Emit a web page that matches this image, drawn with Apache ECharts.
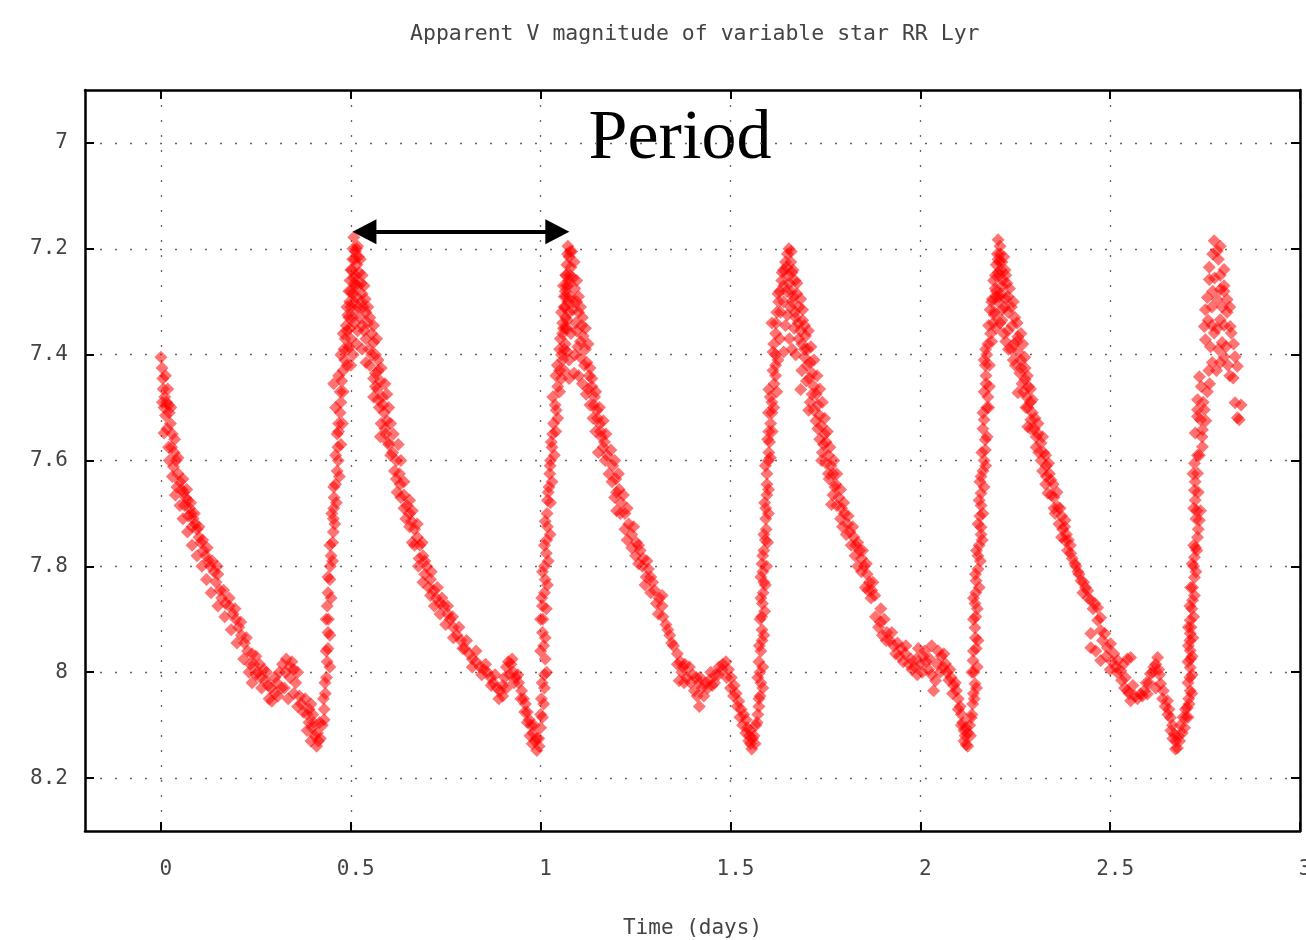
<!DOCTYPE html>
<html>
<head>
<meta charset="utf-8">
<script src="https://cdn.jsdelivr.net/npm/echarts@6/dist/echarts.min.js"></script>
<style>html,body{margin:0;padding:0;background:#fff;}#chart{width:1306px;height:940px;}</style>
</head>
<body>
<div id="chart"></div>
<script>
// Tick values
const xTicks = [0, 0.5, 1, 1.5, 2, 2.5, 3];
const yTicks = [7, 7.2, 7.4, 7.6, 7.8, 8, 8.2];

const cycle0 = [
[0.000,7.405],[0.003,7.425],[0.005,7.445],[0.006,7.465],[0.010,7.48],[0.008,7.50],[0.015,7.49],[0.020,7.495],[0.012,7.515],[0.022,7.51],
[0.025,7.53],[0.008,7.548],[0.030,7.55],[0.028,7.575],[0.035,7.585],[0.022,7.60],[0.033,7.612],[0.040,7.60],[0.045,7.625],[0.050,7.64],
[0.042,7.65],[0.055,7.655],[0.060,7.66],[0.065,7.67],[0.070,7.675],[0.062,7.685],[0.075,7.69],[0.080,7.70],[0.072,7.705],[0.085,7.71],
[0.090,7.72],[0.082,7.725],[0.095,7.73],[0.100,7.745],[0.105,7.755],[0.112,7.77],[0.118,7.78],[0.125,7.79],[0.130,7.80],[0.140,7.81],
[0.150,7.815],[0.145,7.83],[0.155,7.845],[0.160,7.86],[0.170,7.87],[0.180,7.875],[0.190,7.89],[0.197,7.90],[0.205,7.915],[0.212,7.93],
[0.220,7.945],[0.228,7.96],[0.240,7.965],[0.250,7.97],[0.245,7.985],[0.255,8.00],[0.232,8.00],[0.240,8.02],[0.262,8.01],[0.270,7.995],
[0.275,8.015],[0.282,8.025],[0.290,8.03],[0.300,8.04],[0.308,8.045],[0.285,8.05],[0.300,8.01],[0.312,8.00],[0.320,7.985],[0.330,7.975],
[0.345,7.98],[0.350,7.995],[0.340,8.01],[0.355,8.02],[0.325,8.03],[0.335,8.05],[0.350,8.04],[0.365,8.045],[0.370,8.06],[0.375,8.075],
[0.385,8.08],[0.390,8.095],[0.395,8.06],[0.400,8.08],[0.398,8.105],[0.405,8.12],[0.410,8.14],[0.412,8.115],[0.418,8.095],[0.420,8.125],
[0.425,8.10],[0.430,8.07],[0.433,8.04],[0.436,8.01],[0.438,7.98],[0.440,7.955],[0.440,7.925],[0.441,7.90],[0.438,7.875],[0.440,7.85],
[0.445,7.825],[0.446,7.80],[0.448,7.78],[0.452,7.755],[0.454,7.735],[0.454,7.71],[0.455,7.69],[0.456,7.67],[0.460,7.645],[0.464,7.62],
[0.467,7.60],[0.466,7.575],[0.464,7.55],[0.468,7.53],[0.472,7.51],[0.474,7.49],[0.472,7.47],[0.455,7.455],[0.476,7.45],[0.480,7.43],
[0.484,7.41],[0.482,7.39],[0.480,7.36],[0.488,7.345],[0.492,7.325],[0.497,7.30],[0.500,7.28],[0.498,7.26],[0.503,7.24],[0.505,7.22],
[0.506,7.20],[0.508,7.178],
[0.012,7.44],[0.018,7.465],[0.004,7.49],[0.026,7.50],[0.016,7.54],[0.036,7.56],[0.020,7.575],[0.045,7.595],[0.030,7.63],[0.058,7.635],
[0.038,7.665],[0.068,7.655],[0.050,7.685],[0.078,7.68],[0.058,7.71],[0.088,7.70],[0.070,7.735],[0.100,7.725],[0.082,7.76],[0.110,7.75],
[0.095,7.78],[0.122,7.765],[0.108,7.80],[0.135,7.79],[0.120,7.825],[0.148,7.80],[0.132,7.85],[0.165,7.845],[0.150,7.875],[0.180,7.86],
[0.168,7.895],[0.195,7.88],[0.185,7.92],[0.210,7.905],[0.200,7.945],[0.225,7.935],[0.218,7.975],[0.235,7.985],[0.250,8.005],[0.260,7.985],
[0.265,8.03],[0.278,8.00],[0.292,8.055],[0.305,8.02],[0.318,8.03],[0.328,8.00],[0.340,7.99],[0.360,8.00],[0.360,8.065],[0.380,8.05],
[0.390,8.07],[0.385,8.11],[0.395,8.13],[0.402,8.095],[0.415,8.13],[0.430,8.09],[0.428,8.05],[0.432,8.02],[0.445,7.99],[0.435,7.96],
[0.445,7.93],[0.435,7.90],[0.448,7.86],[0.440,7.82],[0.452,7.79],[0.445,7.76],[0.458,7.72],[0.450,7.70],[0.462,7.68],[0.455,7.65],
[0.470,7.63],[0.460,7.59],[0.474,7.57],[0.468,7.545],[0.478,7.53],[0.460,7.50],[0.480,7.47],[0.468,7.44],[0.490,7.42],[0.474,7.40],
[0.495,7.385],[0.485,7.37],[0.498,7.35],[0.505,7.33],[0.490,7.31],[0.508,7.30],[0.495,7.28],[0.512,7.27],[0.500,7.24],[0.510,7.22],
[0.515,7.20]
];
const cycle1 = [
[0.512,7.205],[0.516,7.23],[0.520,7.215],[0.513,7.25],[0.522,7.245],[0.510,7.265],[0.519,7.27],[0.527,7.265],[0.505,7.285],[0.515,7.29],
[0.530,7.285],[0.500,7.31],[0.520,7.31],[0.533,7.31],[0.525,7.33],[0.540,7.32],[0.495,7.33],[0.510,7.34],[0.545,7.34],[0.490,7.355],
[0.535,7.355],[0.555,7.36],[0.500,7.37],[0.560,7.377],[0.492,7.39],[0.548,7.39],[0.506,7.40],[0.565,7.40],[0.550,7.42],[0.500,7.42],
[0.572,7.43],[0.560,7.445],[0.578,7.45],[0.570,7.465],[0.560,7.48],[0.583,7.48],[0.575,7.50],[0.588,7.51],[0.580,7.53],[0.578,7.555],
[0.592,7.55],[0.600,7.57],[0.610,7.585],[0.620,7.60],[0.615,7.62],[0.628,7.625],[0.630,7.645],[0.622,7.66],[0.640,7.665],[0.648,7.685],
[0.655,7.70],[0.645,7.71],[0.660,7.715],[0.668,7.73],[0.675,7.745],[0.662,7.755],[0.682,7.76],[0.690,7.78],[0.680,7.785],[0.700,7.80],
[0.695,7.815],[0.710,7.825],[0.705,7.84],[0.718,7.845],[0.725,7.86],[0.735,7.87],[0.745,7.875],[0.755,7.89],[0.762,7.90],[0.770,7.915],
[0.780,7.93],[0.790,7.94],[0.800,7.955],[0.812,7.965],[0.820,7.975],[0.830,7.98],[0.840,7.99],[0.850,7.995],[0.860,8.00],[0.868,8.01],
[0.875,8.02],[0.885,8.03],[0.893,8.035],[0.900,8.025],[0.905,8.01],[0.910,7.99],[0.915,7.98],[0.922,7.985],[0.928,8.00],[0.935,8.01],
[0.942,8.02],[0.950,8.035],[0.955,8.05],[0.960,8.06],[0.965,8.075],[0.970,8.09],[0.975,8.10],[0.980,8.115],[0.985,8.13],[0.990,8.148],
[0.995,8.125],[1.000,8.105],[1.005,8.085],[1.008,8.06],[1.010,8.03],[1.010,8.005],[1.012,7.975],[1.008,7.95],[1.005,7.925],[1.006,7.90],
[1.005,7.875],[1.010,7.85],[1.012,7.825],[1.010,7.80],[1.015,7.775],[1.016,7.75],[1.018,7.725],[1.017,7.70],[1.018,7.675],[1.022,7.65],
[1.024,7.625],[1.026,7.60],[1.030,7.575],[1.032,7.55],[1.034,7.53],[1.041,7.505],[1.032,7.48],[1.045,7.46],[1.050,7.43],[1.058,7.41],
[1.050,7.39],[1.052,7.37],[1.060,7.35],[1.066,7.33],[1.064,7.31],[1.067,7.29],[1.068,7.27],[1.066,7.25],[1.069,7.23],[1.071,7.21],
[1.072,7.195],
[0.525,7.22],[0.518,7.195],[0.530,7.25],[0.535,7.27],[0.508,7.255],[0.538,7.295],[0.528,7.30],[0.512,7.315],[0.545,7.31],[0.550,7.33],
[0.530,7.345],[0.518,7.355],[0.560,7.345],[0.540,7.37],[0.515,7.38],[0.568,7.37],[0.530,7.39],[0.555,7.40],[0.572,7.41],[0.540,7.415],
[0.580,7.425],[0.565,7.435],[0.590,7.455],[0.565,7.46],[0.595,7.475],[0.572,7.485],[0.600,7.50],[0.585,7.495],[0.595,7.525],[0.605,7.53],
[0.590,7.54],[0.612,7.55],[0.598,7.565],[0.625,7.57],[0.605,7.59],[0.632,7.60],[0.620,7.635],[0.640,7.64],[0.632,7.67],[0.655,7.675],
[0.640,7.69],[0.662,7.695],[0.655,7.725],[0.675,7.72],[0.668,7.76],[0.688,7.755],[0.678,7.80],[0.695,7.79],[0.690,7.83],[0.712,7.81],
[0.710,7.855],[0.728,7.84],[0.720,7.875],[0.740,7.86],[0.735,7.89],[0.755,7.875],[0.750,7.91],[0.768,7.895],[0.770,7.935],[0.785,7.915],
[0.795,7.955],[0.805,7.94],[0.820,7.99],[0.830,7.96],[0.845,8.005],[0.855,7.985],[0.870,8.025],[0.880,8.005],[0.890,8.05],[0.900,8.045],
[0.910,8.03],[0.918,8.005],[0.925,7.975],[0.930,8.02],[0.940,8.005],[0.948,8.05],[0.958,8.075],[0.965,8.095],[0.972,8.12],[0.978,8.135],
[0.982,8.10],[0.990,8.125],[0.996,8.14],[1.000,8.08],[1.002,8.05],[1.004,8.02],[1.016,8.00],[1.000,7.96],[1.012,7.935],[1.000,7.90],
[1.015,7.88],[1.003,7.86],[1.018,7.835],[1.005,7.81],[1.020,7.79],[1.010,7.76],[1.025,7.74],[1.012,7.715],[1.026,7.68],[1.020,7.66],
[1.030,7.64],[1.025,7.61],[1.036,7.59],[1.028,7.565],[1.040,7.545],[1.045,7.52],[1.038,7.495],[1.050,7.47],[1.040,7.44],[1.055,7.445],
[1.044,7.42],[1.062,7.39],[1.058,7.34],[1.070,7.35],[1.062,7.29],[1.072,7.30],[1.060,7.27],[1.074,7.26],[1.078,7.205]
];
const cycle2 = [
[1.075,7.215],[1.080,7.235],[1.068,7.25],[1.085,7.255],[1.072,7.27],[1.090,7.275],[1.078,7.29],[1.095,7.30],[1.062,7.31],[1.085,7.315],
[1.100,7.32],[1.070,7.335],[1.092,7.34],[1.108,7.345],[1.058,7.36],[1.080,7.36],[1.112,7.365],[1.065,7.38],[1.098,7.385],[1.118,7.39],
[1.055,7.40],[1.075,7.41],[1.105,7.405],[1.122,7.415],[1.062,7.43],[1.088,7.435],[1.128,7.44],[1.110,7.455],[1.135,7.46],[1.120,7.475],
[1.142,7.48],[1.130,7.495],[1.148,7.505],[1.138,7.52],[1.155,7.53],[1.145,7.545],[1.160,7.555],[1.165,7.575],[1.152,7.585],[1.175,7.59],
[1.190,7.61],[1.180,7.625],[1.198,7.635],[1.207,7.655],[1.195,7.67],[1.212,7.68],[1.200,7.695],[1.222,7.70],[1.232,7.72],[1.240,7.74],
[1.228,7.75],[1.252,7.755],[1.262,7.77],[1.270,7.785],[1.258,7.795],[1.284,7.805],[1.290,7.82],[1.275,7.835],[1.300,7.845],[1.312,7.86],
[1.320,7.875],[1.310,7.89],[1.330,7.91],[1.340,7.93],[1.350,7.95],[1.360,7.965],[1.368,7.98],[1.380,7.985],[1.392,7.99],[1.372,8.00],
[1.365,8.016],[1.385,8.01],[1.400,8.005],[1.410,8.01],[1.418,8.02],[1.425,8.03],[1.435,8.02],[1.445,8.015],[1.452,8.025],[1.418,8.065],
[1.430,8.045],[1.460,8.005],[1.470,7.99],[1.480,7.985],[1.488,7.98],[1.495,7.995],[1.502,8.01],[1.510,8.025],[1.515,8.04],[1.522,8.055],
[1.528,8.07],[1.535,8.08],[1.541,8.09],[1.545,8.105],[1.550,8.12],[1.553,8.135],[1.556,8.145],[1.562,8.12],[1.567,8.10],[1.572,8.08],
[1.575,8.065],[1.578,8.045],[1.580,8.02],[1.578,8.00],[1.575,7.98],[1.580,7.96],[1.583,7.94],[1.583,7.92],[1.582,7.895],[1.584,7.87],
[1.586,7.85],[1.588,7.83],[1.585,7.81],[1.583,7.795],[1.588,7.77],[1.592,7.75],[1.594,7.73],[1.593,7.71],[1.593,7.69],[1.596,7.665],
[1.596,7.645],[1.596,7.625],[1.600,7.60],[1.601,7.585],[1.603,7.565],[1.601,7.545],[1.606,7.53],[1.609,7.51],[1.609,7.49],[1.601,7.466],
[1.615,7.455],[1.619,7.44],[1.619,7.42],[1.619,7.40],[1.614,7.38],[1.619,7.36],[1.609,7.34],[1.622,7.32],[1.627,7.30],[1.630,7.28],
[1.635,7.26],[1.640,7.24],[1.645,7.225],[1.650,7.21],[1.654,7.20],
[1.082,7.205],[1.088,7.225],[1.078,7.25],[1.095,7.26],[1.065,7.28],[1.100,7.29],[1.085,7.30],[1.055,7.32],[1.105,7.31],[1.075,7.32],
[1.110,7.33],[1.095,7.355],[1.065,7.35],[1.118,7.35],[1.105,7.375],[1.070,7.395],[1.125,7.38],[1.090,7.40],[1.115,7.42],[1.130,7.425],
[1.075,7.445],[1.100,7.44],[1.135,7.445],[1.125,7.465],[1.145,7.47],[1.140,7.495],[1.155,7.50],[1.150,7.52],[1.165,7.525],[1.158,7.545],
[1.172,7.55],[1.168,7.565],[1.185,7.58],[1.170,7.60],[1.195,7.60],[1.188,7.64],[1.205,7.625],[1.200,7.66],[1.218,7.665],[1.210,7.70],
[1.228,7.69],[1.222,7.73],[1.245,7.725],[1.240,7.765],[1.258,7.76],[1.250,7.78],[1.268,7.80],[1.280,7.79],[1.278,7.82],[1.295,7.83],
[1.290,7.85],[1.305,7.87],[1.320,7.855],[1.322,7.895],[1.335,7.92],[1.345,7.945],[1.360,7.985],[1.375,7.99],[1.378,8.02],[1.395,8.02],
[1.405,8.035],[1.412,8.045],[1.420,8.01],[1.440,8.03],[1.448,8.00],[1.458,8.02],[1.468,8.005],[1.478,7.995],[1.490,8.01],[1.500,8.03],
[1.508,8.045],[1.518,8.065],[1.525,8.085],[1.532,8.10],[1.540,8.115],[1.548,8.13],[1.552,8.11],[1.558,8.125],[1.565,8.135],[1.570,8.095],
[1.575,8.05],[1.585,8.03],[1.572,8.01],[1.585,7.99],[1.576,7.95],[1.588,7.93],[1.578,7.90],[1.590,7.885],[1.580,7.86],[1.592,7.835],
[1.580,7.82],[1.595,7.80],[1.585,7.78],[1.598,7.755],[1.588,7.74],[1.600,7.70],[1.590,7.68],[1.600,7.655],[1.592,7.61],[1.605,7.595],
[1.598,7.56],[1.610,7.545],[1.600,7.51],[1.614,7.50],[1.605,7.48],[1.622,7.47],[1.612,7.43],[1.625,7.41],[1.612,7.395],[1.630,7.37],
[1.620,7.34],[1.632,7.32],[1.625,7.285],[1.640,7.27],[1.636,7.245],[1.648,7.235],[1.660,7.205]
];
const cycle3 = [
[1.659,7.225],[1.662,7.245],[1.655,7.265],[1.670,7.26],[1.648,7.28],[1.665,7.29],[1.675,7.285],[1.640,7.30],[1.658,7.31],[1.680,7.31],
[1.650,7.325],[1.672,7.33],[1.690,7.335],[1.645,7.345],[1.668,7.35],[1.685,7.355],[1.698,7.365],[1.655,7.37],[1.688,7.38],[1.703,7.39],
[1.640,7.395],[1.672,7.40],[1.695,7.405],[1.710,7.415],[1.688,7.43],[1.715,7.435],[1.700,7.45],[1.685,7.466],[1.720,7.46],[1.726,7.475],
[1.710,7.49],[1.730,7.495],[1.706,7.505],[1.735,7.515],[1.725,7.525],[1.740,7.535],[1.748,7.55],[1.735,7.56],[1.752,7.565],[1.742,7.585],
[1.758,7.59],[1.740,7.60],[1.765,7.61],[1.770,7.625],[1.760,7.635],[1.777,7.645],[1.770,7.665],[1.785,7.67],[1.766,7.683],[1.793,7.69],
[1.800,7.70],[1.790,7.71],[1.808,7.72],[1.815,7.735],[1.825,7.745],[1.830,7.76],[1.840,7.77],[1.845,7.785],[1.835,7.80],[1.852,7.80],
[1.860,7.815],[1.866,7.83],[1.855,7.84],[1.872,7.845],[1.870,7.86],[1.896,7.88],[1.905,7.90],[1.890,7.915],[1.900,7.93],[1.912,7.925],
[1.920,7.94],[1.930,7.95],[1.940,7.945],[1.950,7.955],[1.960,7.965],[1.955,7.98],[1.970,7.985],[1.978,7.995],[1.990,7.975],[2.000,7.985],
[1.995,7.955],[2.008,7.97],[2.015,7.98],[2.022,7.995],[2.030,8.005],[2.040,8.016],[2.035,8.035],[2.047,7.96],[2.055,7.97],[2.060,7.99],
[2.066,7.984],[2.070,8.00],[2.075,8.015],[2.081,8.01],[2.088,8.025],[2.095,8.035],[2.100,8.05],[2.105,8.065],[2.108,8.08],[2.112,8.095],
[2.115,8.11],[2.118,8.12],[2.121,8.137],[2.126,8.115],[2.130,8.10],[2.134,8.086],[2.138,8.06],[2.140,8.04],[2.144,8.022],[2.141,8.00],
[2.139,7.978],[2.147,7.955],[2.145,7.935],[2.144,7.916],[2.146,7.895],[2.144,7.87],[2.146,7.85],[2.147,7.827],[2.152,7.805],[2.152,7.78],
[2.155,7.76],[2.160,7.74],[2.160,7.726],[2.157,7.705],[2.160,7.685],[2.160,7.662],[2.157,7.64],[2.165,7.62],[2.168,7.60],[2.171,7.58],
[2.171,7.561],[2.165,7.54],[2.168,7.523],[2.175,7.50],[2.178,7.48],[2.173,7.455],[2.173,7.44],[2.171,7.42],[2.175,7.40],[2.178,7.38],
[2.185,7.36],[2.192,7.34],[2.184,7.315],[2.190,7.295],[2.197,7.275],[2.198,7.25],[2.200,7.23],[2.203,7.21],[2.205,7.183],
[1.665,7.24],[1.652,7.25],[1.675,7.265],[1.660,7.28],[1.685,7.295],[1.662,7.30],[1.690,7.315],[1.670,7.32],[1.695,7.345],[1.678,7.34],
[1.705,7.355],[1.680,7.37],[1.712,7.385],[1.695,7.39],[1.662,7.39],[1.720,7.41],[1.702,7.42],[1.728,7.44],[1.708,7.445],[1.735,7.465],
[1.715,7.475],[1.742,7.49],[1.720,7.505],[1.748,7.52],[1.730,7.54],[1.755,7.545],[1.745,7.57],[1.762,7.575],[1.752,7.605],[1.772,7.60],
[1.758,7.625],[1.780,7.625],[1.775,7.65],[1.790,7.655],[1.780,7.685],[1.798,7.68],[1.795,7.725],[1.810,7.705],[1.805,7.74],[1.822,7.725],
[1.818,7.76],[1.835,7.755],[1.828,7.78],[1.848,7.77],[1.845,7.81],[1.858,7.795],[1.862,7.845],[1.875,7.83],[1.880,7.855],[1.882,7.895],
[1.895,7.905],[1.910,7.94],[1.925,7.925],[1.935,7.965],[1.945,7.97],[1.962,7.95],[1.975,7.975],[1.985,7.99],[1.992,8.005],[2.005,8.00],
[2.012,7.96],[2.025,7.975],[2.030,7.95],[2.045,7.985],[2.052,8.00],[2.062,7.965],[2.078,7.995],[2.085,8.04],[2.092,8.02],[2.100,8.07],
[2.108,8.10],[2.115,8.13],[2.120,8.105],[2.125,8.14],[2.132,8.12],[2.136,8.08],[2.142,8.05],[2.148,8.03],[2.136,8.00],[2.150,7.99],
[2.140,7.96],[2.152,7.94],[2.140,7.90],[2.150,7.88],[2.140,7.86],[2.155,7.84],[2.145,7.815],[2.158,7.79],[2.148,7.77],[2.163,7.75],
[2.152,7.72],[2.165,7.70],[2.155,7.675],[2.168,7.65],[2.160,7.63],[2.172,7.61],[2.162,7.585],[2.176,7.555],[2.165,7.51],[2.180,7.50],
[2.168,7.47],[2.182,7.46],[2.168,7.41],[2.182,7.42],[2.172,7.39],[2.188,7.375],[2.180,7.345],[2.195,7.32],[2.188,7.30],[2.200,7.29],
[2.193,7.26],[2.205,7.245],[2.208,7.225],[2.210,7.195]
];
const cycle4 = [
[2.210,7.21],[2.215,7.225],[2.223,7.24],[2.208,7.25],[2.218,7.26],[2.228,7.265],[2.200,7.28],[2.213,7.285],[2.231,7.29],[2.205,7.30],
[2.222,7.31],[2.240,7.31],[2.195,7.325],[2.215,7.335],[2.249,7.33],[2.200,7.35],[2.231,7.355],[2.257,7.366],[2.225,7.375],[2.246,7.38],
[2.239,7.39],[2.265,7.41],[2.250,7.42],[2.276,7.425],[2.262,7.435],[2.276,7.447],[2.285,7.46],[2.257,7.472],[2.280,7.48],[2.290,7.49],
[2.283,7.50],[2.295,7.51],[2.291,7.523],[2.283,7.536],[2.300,7.54],[2.310,7.55],[2.318,7.567],[2.305,7.575],[2.325,7.585],[2.318,7.60],
[2.332,7.61],[2.340,7.625],[2.344,7.637],[2.330,7.645],[2.336,7.662],[2.352,7.67],[2.362,7.688],[2.355,7.70],[2.372,7.705],[2.381,7.713],
[2.375,7.73],[2.385,7.74],[2.381,7.751],[2.395,7.76],[2.396,7.775],[2.407,7.795],[2.415,7.81],[2.423,7.827],[2.435,7.84],[2.441,7.846],
[2.449,7.864],[2.460,7.87],[2.467,7.878],[2.467,7.902],[2.475,7.897],[2.475,7.921],[2.449,7.927],[2.486,7.927],[2.449,7.954],[2.493,7.954],
[2.501,7.946],[2.475,7.978],[2.510,7.965],[2.520,7.978],[2.528,7.997],[2.515,7.99],[2.535,7.985],[2.545,7.975],[2.554,7.972],[2.540,8.01],
[2.546,8.035],[2.554,8.054],[2.565,8.045],[2.580,8.041],[2.590,8.035],[2.598,8.041],[2.606,8.003],[2.615,7.99],[2.625,7.972],[2.628,7.995],
[2.633,8.022],[2.640,8.035],[2.651,8.054],[2.655,8.07],[2.659,8.086],[2.664,8.10],[2.669,8.117],[2.673,8.13],[2.677,8.143],[2.683,8.13],
[2.690,8.115],[2.696,8.105],[2.700,8.085],[2.703,8.067],[2.707,8.05],[2.711,8.035],[2.710,8.01],[2.711,7.991],[2.712,7.975],[2.711,7.959],
[2.710,7.94],[2.711,7.927],[2.713,7.915],[2.711,7.902],[2.715,7.88],[2.717,7.864],[2.717,7.84],[2.722,7.821],[2.720,7.80],[2.722,7.783],
[2.725,7.765],[2.730,7.745],[2.735,7.713],[2.728,7.695],[2.724,7.675],[2.722,7.656],[2.724,7.64],[2.730,7.624],[2.722,7.605],[2.735,7.59],
[2.743,7.574],[2.724,7.548],[2.738,7.523],[2.730,7.504],[2.743,7.542],[2.748,7.504],[2.730,7.517],[2.730,7.485],[2.756,7.47],[2.735,7.442],
[2.824,7.444],[2.829,7.491],[2.835,7.519],[2.835,7.422],[2.829,7.404],[2.800,7.404],[2.769,7.415],[2.764,7.385],[2.795,7.377],[2.751,7.372],
[2.774,7.359],[2.819,7.359],[2.748,7.347],[2.816,7.347],[2.790,7.334],[2.808,7.32],[2.751,7.315],[2.782,7.296],[2.808,7.296],[2.756,7.292],
[2.790,7.277],[2.761,7.258],[2.800,7.239],[2.761,7.235],[2.782,7.204],[2.774,7.185],[2.840,7.523],
[2.205,7.22],[2.220,7.215],[2.212,7.24],[2.225,7.25],[2.215,7.27],[2.235,7.275],[2.208,7.29],[2.225,7.295],[2.245,7.30],[2.215,7.315],
[2.232,7.32],[2.255,7.34],[2.210,7.34],[2.242,7.345],[2.265,7.36],[2.220,7.36],[2.255,7.375],[2.232,7.39],[2.270,7.38],[2.258,7.395],
[2.245,7.41],[2.275,7.405],[2.265,7.425],[2.282,7.44],[2.268,7.455],[2.290,7.465],[2.272,7.47],[2.295,7.485],[2.278,7.50],[2.302,7.52],
[2.290,7.54],[2.310,7.53],[2.305,7.555],[2.322,7.555],[2.312,7.585],[2.330,7.59],[2.322,7.62],[2.338,7.605],[2.332,7.63],[2.350,7.645],
[2.345,7.665],[2.360,7.66],[2.352,7.69],[2.368,7.69],[2.365,7.72],[2.380,7.725],[2.372,7.745],[2.390,7.75],[2.388,7.77],[2.400,7.785],
[2.410,7.80],[2.418,7.815],[2.430,7.83],[2.428,7.85],[2.442,7.86],[2.455,7.88],[2.480,7.94],[2.462,7.96],[2.490,7.97],[2.505,7.98],
[2.500,7.995],[2.518,8.00],[2.530,8.015],[2.538,8.03],[2.550,8.04],[2.560,8.025],[2.572,8.05],[2.585,8.045],[2.595,8.02],[2.602,8.02],
[2.612,8.00],[2.620,7.985],[2.630,8.005],[2.620,8.03],[2.638,8.05],[2.645,8.065],[2.652,8.08],[2.660,8.11],[2.665,8.125],[2.672,8.145],
[2.680,8.12],[2.685,8.10],[2.692,8.085],[2.698,8.07],[2.705,8.085],[2.708,8.06],[2.715,8.04],[2.705,8.02],[2.716,8.005],[2.705,7.98],
[2.716,7.97],[2.706,7.95],[2.718,7.935],[2.706,7.915],[2.720,7.895],[2.710,7.875],[2.722,7.855],[2.712,7.84],[2.726,7.81],[2.716,7.795],
[2.728,7.77],[2.720,7.76],[2.732,7.73],[2.726,7.71],[2.738,7.695],[2.720,7.69],[2.732,7.66],[2.718,7.625],[2.730,7.59],[2.742,7.555],
[2.752,7.525],[2.745,7.49],[2.762,7.455],[2.740,7.46],[2.760,7.43],[2.780,7.43],[2.790,7.415],[2.810,7.42],[2.815,7.44],[2.785,7.39],
[2.805,7.385],[2.825,7.38],[2.758,7.335],[2.768,7.345],[2.782,7.35],[2.800,7.345],[2.768,7.31],[2.795,7.31],[2.815,7.31],[2.770,7.28],
[2.800,7.28],[2.775,7.255],[2.790,7.25],[2.785,7.22],[2.770,7.21],[2.790,7.195],[2.800,7.27],[2.845,7.495]
];

// Annotation: period arrow endpoints (time, magnitude)
const periodStart = [0.536, 7.168];
const periodEnd = [1.044, 7.168];

const allObs = cycle0.concat(cycle1, cycle2, cycle3, cycle4);

const monoFont = 'DejaVu Sans Mono';
const chart = echarts.init(document.getElementById('chart'), null, {renderer: 'canvas'});

const gridLine = {show: true, lineStyle: {color: '#666', width: 1.3, type: [2, 13]}};

chart.setOption({
  animation: false,
  backgroundColor: '#fff',
  title: {
    text: 'Apparent V magnitude of variable star RR Lyr',
    left: 405, top: 18,
    textStyle: {fontFamily: monoFont, fontSize: 21.5, fontWeight: 'normal', color: '#444'}
  },
  grid: {left: 85, top: 90, right: 6, bottom: 109, containLabel: false, outerBoundsMode: 'none'},
  xAxis: [{
    type: 'value', min: -0.2, max: 3, position: 'bottom',
    name: 'Time (days)', nameLocation: 'middle', nameGap: 87,
    nameTextStyle: {fontFamily: monoFont, fontSize: 21, color: '#444'},
    axisLine: {show: true, onZero: false, lineStyle: {color: '#000', width: 2.5}},
    axisTick: {show: true, inside: true, length: 9, customValues: xTicks, lineStyle: {color: '#000', width: 2}},
    axisLabel: {customValues: xTicks, fontFamily: monoFont, fontSize: 21, color: '#444', margin: 28,
      padding: [0, 0, 0, 10], formatter: v => String(v)},
    splitLine: gridLine
  }, {
    type: 'value', min: -0.2, max: 3, position: 'top',
    axisLine: {show: true, onZero: false, lineStyle: {color: '#000', width: 2.5}},
    axisTick: {show: true, inside: true, length: 9, customValues: xTicks, lineStyle: {color: '#000', width: 2}},
    axisLabel: {show: false}, splitLine: {show: false}
  }],
  yAxis: [{
    type: 'value', min: 6.9, max: 8.3, inverse: true, position: 'left',
    axisLine: {show: true, onZero: false, lineStyle: {color: '#000', width: 2.5}},
    axisTick: {show: true, inside: true, length: 9, customValues: yTicks, lineStyle: {color: '#000', width: 2}},
    axisLabel: {customValues: yTicks, fontFamily: monoFont, fontSize: 21, color: '#444', margin: 17,
      formatter: v => String(v)},
    splitLine: gridLine
  }, {
    type: 'value', min: 6.9, max: 8.3, inverse: true, position: 'right',
    axisLine: {show: true, onZero: false, lineStyle: {color: '#000', width: 2.5}},
    axisTick: {show: true, inside: true, length: 9, customValues: yTicks, lineStyle: {color: '#000', width: 2}},
    axisLabel: {show: false}, splitLine: {show: false}
  }],
  series: [{
    type: 'scatter',
    xAxisIndex: 0, yAxisIndex: 0,
    symbol: 'diamond', symbolSize: 13,
    itemStyle: {color: '#ff0000', opacity: 0.55},
    data: allObs,
    markLine: {
      silent: true, animation: false,
      symbol: ['triangle', 'triangle'], symbolSize: [25, 24],
      lineStyle: {color: '#000', width: 4, type: 'solid'},
      itemStyle: {color: '#000'},
      label: {show: false},
      data: [[{coord: periodStart}, {coord: periodEnd}]]
    }
  }],
  graphic: [{
    type: 'text',
    style: {x: 680, y: 140, text: 'Period', textAlign: 'center', textVerticalAlign: 'middle',
      font: '70px "Liberation Serif"', fill: '#000'}
  }]
});
</script>
</body>
</html>
